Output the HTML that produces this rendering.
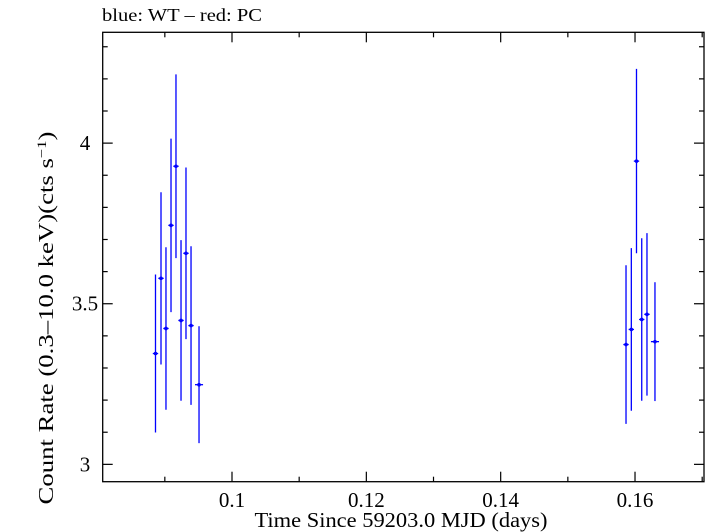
<!DOCTYPE html>
<html><head><meta charset="utf-8"><style>
body{margin:0;background:#fff;}
svg{display:block;font-family:"Liberation Serif",serif;}
</style></head><body>
<svg id="chart" width="709" height="532" viewBox="0 0 709 532">
<text x="102" y="21" font-size="18" textLength="160" lengthAdjust="spacingAndGlyphs">blue: WT – red: PC</text>
<rect x="102.7" y="32.3" width="601.3" height="449.4" fill="none" stroke="#000" stroke-width="1.3"/>
<g id="axes"></g>
<g id="marks"></g>
<text x="401" y="527" font-size="21" text-anchor="middle" textLength="293" lengthAdjust="spacingAndGlyphs">Time Since 59203.0 MJD (days)</text>
<text transform="translate(53,318) rotate(-90)" font-size="21" text-anchor="middle" textLength="373" lengthAdjust="spacingAndGlyphs">Count Rate (0.3–10.0 keV)(cts s<tspan baseline-shift="super" font-size="13">−1</tspan>)</text>
</svg>
<script>
const times = [0.08861,0.08943,0.09017,0.09092,0.09166,0.09241,0.09315,0.0939,0.09509,0.15866,0.15945,0.16022,0.16100,0.16178,0.16297];
const rates = [3.345,3.579,3.423,3.744,3.928,3.448,3.657,3.432,3.248,3.373,3.420,3.944,3.451,3.467,3.382];
const rateErr = [0.246,0.268,0.253,0.270,0.286,0.250,0.267,0.247,0.182,0.247,0.253,0.287,0.253,0.253,0.185];
const timeErr = [0.0004,0.0004,0.0004,0.0004,0.0004,0.0004,0.0004,0.0004,0.0006,0.0004,0.0004,0.0004,0.0004,0.0004,0.0006];
const xTicks = [0.1,0.12,0.14,0.16];
const xTickLabels = ["0.1","0.12","0.14","0.16"];
const yTicks = [3,3.5,4];
const yTickLabels = ["3","3.5","4"];
const X0=102.7,X1=704,Y0=481.7,Y1=32.3;
const xMin=0.08075,xMax=0.17027,yMin=2.946,yMax=4.345;
const sx=v=>X0+(v-xMin)/(xMax-xMin)*(X1-X0);
const sy=v=>Y0-(v-yMin)/(yMax-yMin)*(Y0-Y1);
const NS="http://www.w3.org/2000/svg";
const axes=document.getElementById('axes'),marks=document.getElementById('marks');
function ln(p,x1,y1,x2,y2,c,w){const l=document.createElementNS(NS,'line');l.setAttribute('x1',x1);l.setAttribute('y1',y1);l.setAttribute('x2',x2);l.setAttribute('y2',y2);l.setAttribute('stroke',c);l.setAttribute('stroke-width',w);p.appendChild(l);return l;}
for(let k=0.09;k<=0.1701;k+=0.01){const x=sx(k);const major=Math.abs(Math.round(k*100)%2)===0;const L=major?10:5;
 let t=ln(axes,x,Y0,x,Y0-L,'#000',1.2);
 t=ln(axes,x,Y1,x,Y1+L,'#000',1.2);}
xTicks.forEach((v,i)=>{const t=document.createElementNS(NS,'text');t.setAttribute('x',sx(v));t.setAttribute('y',507);t.setAttribute('font-size','21');t.setAttribute('text-anchor','middle');t.textContent=xTickLabels[i];
 
 axes.appendChild(t);});
for(let k=30;k<=43;k++){const v=k/10;const y=sy(v);if(y<Y1||y>Y0)continue;const major=k%5===0;const L=major?10:5;
 let t=ln(axes,X0,y,X0+L,y,'#000',1.2);
 t=ln(axes,X1,y,X1-L,y,'#000',1.2);}
yTicks.forEach((v,i)=>{const t=document.createElementNS(NS,'text');t.setAttribute('x',85);t.setAttribute('y',sy(v)+7);t.setAttribute('font-size','21');t.setAttribute('text-anchor','middle');t.textContent=yTickLabels[i];
 
 axes.appendChild(t);});
times.forEach((tv,i)=>{const g=document.createElementNS(NS,'g');
 
 
 const x=sx(tv),y=sy(rates[i]);
 ln(g,x,sy(rates[i]+rateErr[i]),x,sy(rates[i]-rateErr[i]),'#0000ff',1.3);
 ln(g,sx(tv-timeErr[i]),y,sx(tv+timeErr[i]),y,'#0000ff',1.3);
 const c=document.createElementNS(NS,'circle');c.setAttribute('cx',x);c.setAttribute('cy',y);c.setAttribute('r',1.8);c.setAttribute('fill','#0000ff');g.appendChild(c);
 marks.appendChild(g);});
</script>
</body></html>
